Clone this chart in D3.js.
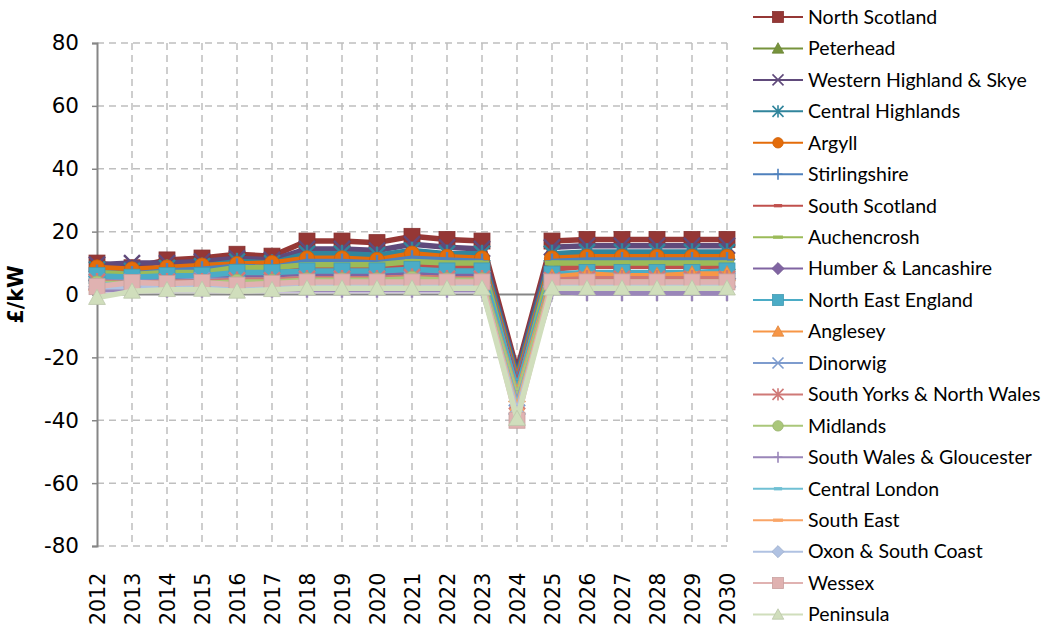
<!DOCTYPE html>
<html>
<head>
<meta charset="utf-8">
<script src="https://cdn.jsdelivr.net/npm/d3@7"></script>
<style>
  html, body { margin: 0; padding: 0; background: #ffffff; }
  svg { display: block; }
</style>
</head>
<body>
<svg id="chart" width="1042" height="628"></svg>
<script>
// ---------- DATA ----------
const years = ["2012","2013","2014","2015","2016","2017","2018","2019","2020","2021","2022","2023","2024","2025","2026","2027","2028","2029","2030"];
const yTicks = [-80, -60, -40, -20, 0, 20, 40, 60, 80];

const northScotland      = [10, 8.5, 11, 11.6, 12.8, 12.2, 17, 17, 16.5, 18.5, 17.5, 17, -24, 17, 17.5, 17.5, 17.5, 17.5, 17.5];
const peterhead          = [6.5, 6, 6.5, 7, 8.2, 8, 9.5, 9.5, 9.5, 10.5, 10, 10, -30, 9.5, 10, 10, 10, 10, 10];
const westernHighland    = [9.5, 10, 10, 10.5, 11.5, 11, 14.5, 14.5, 14, 16, 15, 14.5, -25, 15, 15.5, 15.5, 15.5, 15.5, 15.5];
const centralHighlands   = [8, 7.5, 8.5, 9, 10.5, 10, 13, 13, 12.5, 14, 13, 13, -26, 13, 13.5, 13.5, 13.5, 13.5, 13.5];
const argyll             = [8.6, 8, 8.6, 9.2, 9.7, 10, 11.5, 11.5, 11, 13, 12, 11.5, -27, 11.5, 12, 12, 12, 12, 12];
const stirlingshire      = [7, 6.5, 7.5, 8, 9, 8.5, 10.5, 10.5, 10, 11.5, 11, 10.5, -28, 10.5, 11, 11, 11, 11, 11];
const southScotland      = [5.5, 5, 5.5, 6, 7, 7, 8, 8, 8, 9.5, 8.5, 8.5, -29, 8, 9, 9, 9, 9, 9];
const auchencrosh        = [7, 6.4, 7, 7, 8.6, 8.5, 9.5, 9.5, 9.5, 10.5, 10, 10, -31, 10, 10, 10, 10, 10, 10];
const humberLancashire   = [4.5, 4.5, 5, 5, 5.5, 5.5, 6, 6, 6, 6.5, 6, 6, -30, 5, 5, 5, 5, 5, 5];
const northEastEngland   = [6, 5.5, 6, 6, 7, 7, 7.5, 7.5, 7.5, 8, 7.5, 7.5, -30, 6.5, 7, 7, 7, 7, 7.5];
const anglesey           = [3.5, 3.5, 3.5, 4, 4.5, 4.5, 5, 5, 5, 5.5, 5, 5, -32, 5.5, 6.5, 6, 6, 6.5, 6.5];
const dinorwig           = [4, 4, 4, 4.5, 4.5, 4.5, 5, 5, 5, 5, 5, 5, -33, 4.5, 4.5, 4.5, 4.5, 4.5, 4.5];
const southYorks         = [4, 3.5, 4, 4, 4.5, 4.5, 5, 5, 5, 5.5, 5, 5, -34, 4.5, 5, 5, 5, 5, 5];
const midlands           = [3.5, 3.5, 3.5, 3.5, 4, 4, 4.5, 4.5, 4.5, 5, 4.5, 4.5, -33, 4, 4, 4, 4, 4, 4];
const southWales         = [1.5, 1.5, 1.5, 1.5, 1.5, 1.5, 1.5, 1.5, 1.5, 1.5, 1.5, 1.5, -35, 1, 0.5, 0.5, 0.5, 0.5, 0.5];
const centralLondon      = [3, 3, 3, 3, 3, 3, 3.5, 3.5, 3.5, 3.5, 3.5, 3.5, -36, 3, 3, 3, 3, 3, 3];
const southEast          = [2.5, 3, 3, 3, 3, 3, 3.5, 3.5, 3.5, 3.5, 3.5, 3.5, -37, 3.5, 3.5, 3.5, 3.5, 3.5, 3.5];
const oxonSouthCoast     = [2.5, 2.5, 2.5, 2.5, 2.5, 2.5, 3, 3, 3, 3, 3, 3, -38, 2.5, 2.5, 2.5, 2.5, 2.5, 2.5];
const wessex             = [2.5, 3.8, 3.5, 3.8, 3, 3.5, 4, 4, 4, 4, 4, 4, -40, 4, 4, 4, 4, 4, 4];
const peninsula          = [-1, 1, 1.5, 1.6, 1, 1.5, 2, 2, 2, 2, 2, 2, -39.5, 2, 2, 2, 2, 2, 2];

const seriesNames  = ["North Scotland","Peterhead","Western Highland & Skye","Central Highlands","Argyll","Stirlingshire","South Scotland","Auchencrosh","Humber & Lancashire","North East England","Anglesey","Dinorwig","South Yorks & North Wales","Midlands","South Wales & Gloucester","Central London","South East","Oxon & South Coast","Wessex","Peninsula"];
const seriesValues = [northScotland, peterhead, westernHighland, centralHighlands, argyll, stirlingshire, southScotland, auchencrosh, humberLancashire, northEastEngland, anglesey, dinorwig, southYorks, midlands, southWales, centralLondon, southEast, oxonSouthCoast, wessex, peninsula];
const seriesColors = ["#953735","#77933C","#604A7B","#31859C","#E46C0A","#4F81BD","#C0504D","#9BBB59","#8064A2","#4BACC6","#F79646","#7E9CCE","#CF7977","#AAC77A","#9A86B9","#70C0D4","#F9A567","#B0C2E2","#E0B2B1","#D0DEBC"];
const seriesMarkers = ["square","triangle","x","asterisk","circle","plus","dashS","dashL","diamond","square","triangle","x","asterisk","circle","plus","dashS","dashL","diamond","square","triangle"];

// ---------- LAYOUT ----------
const svg = d3.select("#chart");
const plot = { left: 97, right: 727, top: 43, bottom: 546 };
const numFont = "'DejaVu Sans', Verdana, sans-serif";

const x = d3.scalePoint().domain(years).range([plot.left, plot.right]);
const y = d3.scaleLinear().domain([-80, 80]).range([plot.bottom, plot.top]);

const gridColor = "#BFBFBF";
const axisColor = "#868686";

// horizontal gridlines
svg.append("g").selectAll("line").data(yTicks.filter(t => t !== 0)).join("line")
  .attr("x1", plot.left).attr("x2", plot.right)
  .attr("y1", d => y(d)).attr("y2", d => y(d))
  .attr("stroke", gridColor).attr("stroke-width", 1.5).attr("stroke-dasharray", "7,5");

// vertical gridlines
svg.append("g").selectAll("line").data(years.slice(1)).join("line")
  .attr("x1", d => x(d)).attr("x2", d => x(d))
  .attr("y1", plot.top).attr("y2", plot.bottom)
  .attr("stroke", gridColor).attr("stroke-width", 1.5).attr("stroke-dasharray", "7,5");

// Y axis
const yAxis = d3.axisLeft(y).tickValues(yTicks).tickSize(5).tickPadding(13).tickFormat(d => String(d));
const yg = svg.append("g").attr("transform", `translate(${plot.left},0)`).call(yAxis);
yg.select(".domain").attr("stroke", axisColor).attr("stroke-width", 2);
yg.selectAll(".tick line").attr("stroke", axisColor).attr("stroke-width", 1.5);
yg.selectAll(".tick text").style("font-family", numFont).style("font-size", "21.5px").attr("fill", "#000");

// zero line (category axis)
svg.append("line")
  .attr("x1", plot.left).attr("x2", plot.right)
  .attr("y1", y(0)).attr("y2", y(0))
  .attr("stroke", axisColor).attr("stroke-width", 2);

// X tick labels (at the bottom, rotated)
svg.append("g").selectAll("text").data(years).join("text")
  .attr("transform", d => `translate(${x(d) + 7.5},${plot.bottom + 79}) rotate(-90)`)
  .attr("text-anchor", "start")
  .style("font-family", numFont)
  .style("font-size", "20.5px")
  .attr("fill", "#000")
  .text(d => d);

// Y axis title
svg.append("text")
  .attr("transform", `translate(23,${y(0)}) rotate(-90)`)
  .attr("text-anchor", "middle")
  .style("font-family", numFont)
  .style("font-weight", "bold")
  .style("font-size", "20.5px")
  .text("£/kW");

// ---------- MARKERS ----------
function drawMarker(g, type, color, s, thin) {
  const h = s / 2;
  const sw = thin ? 1.6 : 2.4;
  const dark = d3.color(color).darker(0.3).formatHex();
  switch (type) {
    case "square":
      g.append("rect").attr("x", -h).attr("y", -h).attr("width", s).attr("height", s)
        .attr("fill", color).attr("stroke", dark).attr("stroke-width", 0.8);
      break;
    case "triangle":
      g.append("path").attr("d", `M0,${-h * 1.05}L${h * 1.05},${h * 0.85}L${-h * 1.05},${h * 0.85}Z`)
        .attr("fill", color).attr("stroke", dark).attr("stroke-width", 0.8);
      break;
    case "circle":
      g.append("circle").attr("r", h * 0.95).attr("fill", color).attr("stroke", dark).attr("stroke-width", 0.8);
      break;
    case "diamond":
      g.append("path").attr("d", `M0,${-h * 1.1}L${h * 1.1},0L0,${h * 1.1}L${-h * 1.1},0Z`)
        .attr("fill", color).attr("stroke", dark).attr("stroke-width", 0.8);
      break;
    case "x":
      g.append("path").attr("d", `M${-h},${-h}L${h},${h}M${-h},${h}L${h},${-h}`)
        .attr("stroke", color).attr("stroke-width", sw).attr("fill", "none");
      break;
    case "asterisk":
      g.append("path").attr("d", `M${-h},${-h}L${h},${h}M${-h},${h}L${h},${-h}M0,${-h * 1.1}L0,${h * 1.1}`)
        .attr("stroke", color).attr("stroke-width", sw).attr("fill", "none");
      break;
    case "plus":
      g.append("path").attr("d", `M0,${-h}L0,${h}M${-h * 0.8},0L${h * 0.8},0`)
        .attr("stroke", color).attr("stroke-width", sw).attr("fill", "none");
      break;
    case "dashS":
      g.append("rect").attr("x", -h * 0.75).attr("y", -h * 0.3).attr("width", s * 0.75).attr("height", s * 0.3)
        .attr("fill", color);
      break;
    case "dashL":
      g.append("rect").attr("x", -h * 0.9).attr("y", -h * 0.3).attr("width", s * 0.9).attr("height", s * 0.3)
        .attr("fill", color);
      break;
  }
}

// ---------- SERIES ----------
const line = d3.line().x((d, i) => x(years[i])).y(d => y(d));
const seriesLayer = svg.append("g");
seriesNames.forEach((name, si) => {
  const g = seriesLayer.append("g");
  g.append("path").datum(seriesValues[si]).attr("d", line)
    .attr("fill", "none").attr("stroke", seriesColors[si]).attr("stroke-width", 5.5)
    .attr("stroke-linejoin", "round");
  seriesValues[si].forEach((v, i) => {
    const mg = g.append("g").attr("transform", `translate(${x(years[i])},${y(v)})`);
    drawMarker(mg, seriesMarkers[si], seriesColors[si], 16, false);
  });
});

// ---------- LEGEND ----------
const legend = svg.append("g");
seriesNames.forEach((name, si) => {
  const cy = 17 + si * 31.45;
  const lg = legend.append("g");
  lg.append("line").attr("x1", 753).attr("x2", 803).attr("y1", cy).attr("y2", cy)
    .attr("stroke", seriesColors[si]).attr("stroke-width", 2);
  const mg = lg.append("g").attr("transform", `translate(778,${cy})`);
  drawMarker(mg, seriesMarkers[si], seriesColors[si], 11, true);
  lg.append("text").attr("x", 808).attr("y", cy).attr("dy", "0.35em")
    .style("font-family", "Lato, 'Open Sans', sans-serif")
    .style("font-size", "19.5px").attr("fill", "#000")
    .text(name);
});
</script>
</body>
</html>
